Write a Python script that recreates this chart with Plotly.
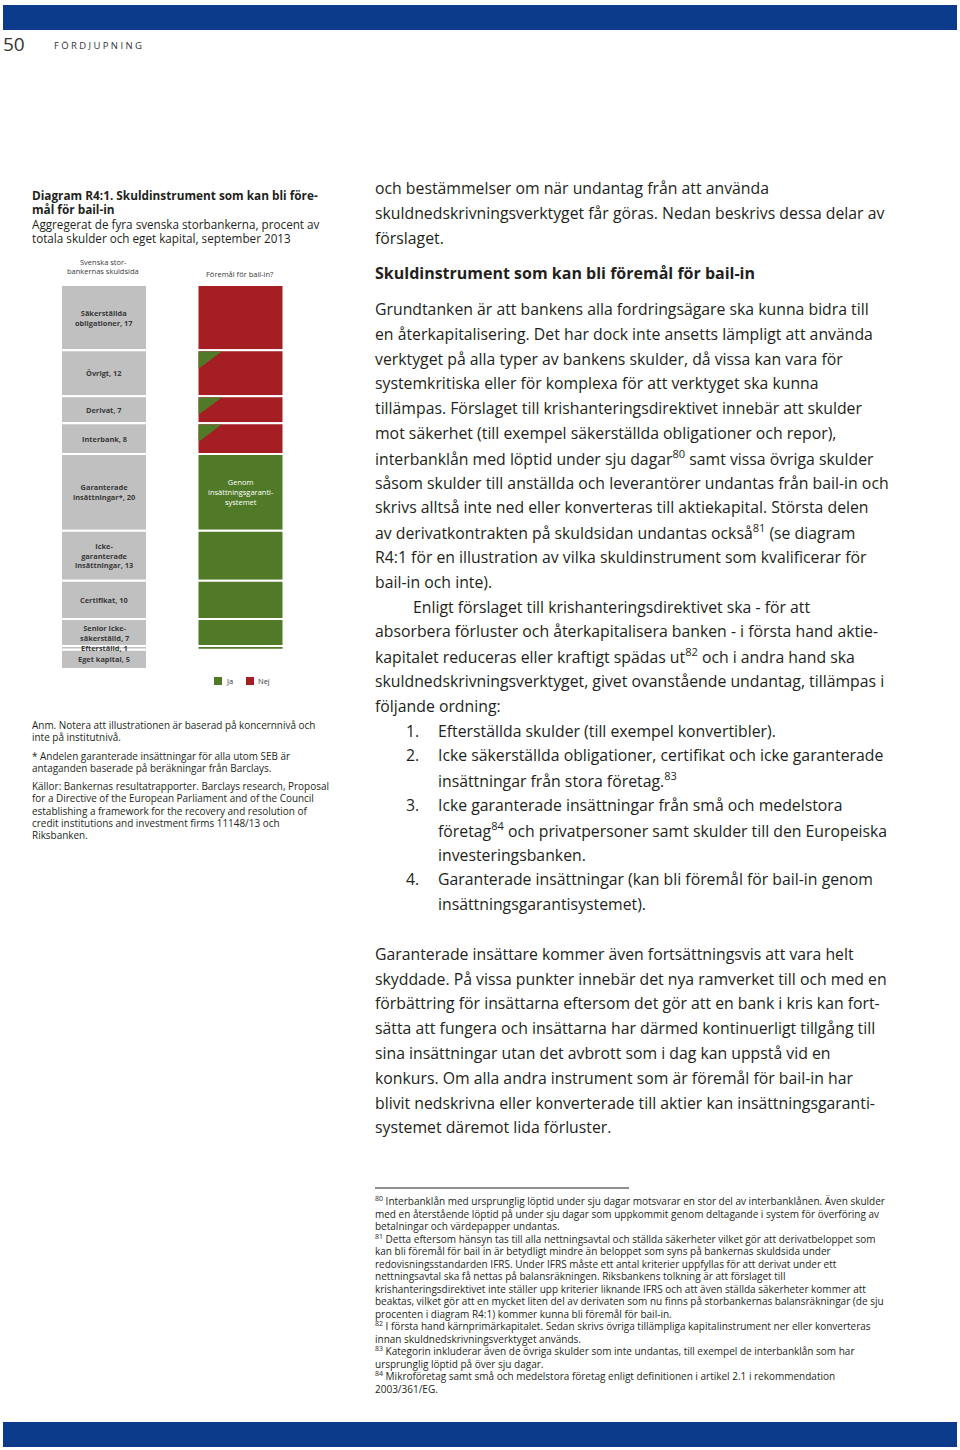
import plotly.graph_objects as go

W, H = 960, 1450
FONT = "Open Sans"
TEXT = "#231f20"
BLUE = "#0d3b8c"
GREY = "#c0c0c0"
RED = "#a51e24"
GREEN = "#507a27"

# --- chart data: Swedish big banks' liabilities, % of total (Sept 2013)
kategorier = ["Säkerställda<br>obligationer, 17", "Övrigt, 12", "Derivat, 7", "Interbank, 8",
              "Garanterade<br>insättningar*, 20", "Icke-<br>garanterade<br>insättningar, 13",
              "Certifikat, 10", "Senior icke-<br>säkerställd, 7", "Efterställd, 1", "Eget kapital, 5"]
andelar = [17, 12, 7, 8, 20, 13, 10, 7, 1, 5]
# subject to bail-in? (None = not part of the right bar)
bail_in = ["Nej", "Nej", "Nej", "Nej", "Ja", "Ja", "Ja", "Ja", "Ja", None]
# small share that can be bailed in although mostly excepted
delvis_ja = [False, True, True, True, False, False, False, False, False, False]
etikett_hoger = {4: "Genom<br>insättningsgaranti-<br>systemet"}


def fx(px):
    return px / W


def fy(py):
    return 1 - py / H


bas = []
s = 0
for v in andelar:
    bas.append(s)
    s += v

fig = go.Figure()

# left bar: the liability side
fig.add_trace(go.Bar(x=[0] * len(andelar), y=andelar, base=bas, width=0.63,
                     marker=dict(color=GREY, line=dict(color="white", width=2)),
                     showlegend=False, hoverinfo="skip"))

# right bar: subject to bail-in or not
idx = [i for i, b in enumerate(bail_in) if b is not None]
fig.add_trace(go.Bar(x=[1] * len(idx), y=[andelar[i] for i in idx], base=[bas[i] for i in idx],
                     width=0.63,
                     marker=dict(color=[GREEN if bail_in[i] == "Ja" else RED for i in idx],
                                 line=dict(color="white", width=2)),
                     showlegend=False, hoverinfo="skip"))

# green corner triangles
for i, d in enumerate(delvis_ja):
    if d:
        x0 = 1 - 0.63 / 2 + 0.008
        top = bas[i] + 0.3
        fig.add_trace(go.Scatter(x=[x0, x0 + 0.17, x0, x0], y=[top, top, top + 4.5, top],
                                 fill="toself", fillcolor=GREEN, mode="none",
                                 showlegend=False, hoverinfo="skip"))

ann = []
for i, k in enumerate(kategorier):
    ann.append(dict(x=0, y=bas[i] + andelar[i] / 2, xref="x", yref="y", text="<b>" + k + "</b>",
                    showarrow=False, font=dict(family=FONT, size=7.4, color="#3a3a3a"),
                    xanchor="center", yanchor="middle"))
for i, t in etikett_hoger.items():
    ann.append(dict(x=1, y=bas[i] + andelar[i] / 2, xref="x", yref="y", text=t,
                    showarrow=False, font=dict(family=FONT, size=7.5, color="white"),
                    xanchor="center", yanchor="middle"))


def txt(x, y, t, size, color=TEXT, anchor="left", bold=False, family=FONT):
    if bold:
        t = "<b>" + t + "</b>"
    if anchor == "left":
        x -= 2  # annotation padding
    ann.append(dict(x=fx(x), y=fy(y), xref="paper", yref="paper", text=t, showarrow=False,
                    font=dict(family=family, size=size, color=color),
                    xanchor=anchor, yanchor="middle"))


# header / footer
shapes = [
    dict(type="rect", xref="paper", yref="paper", x0=fx(3), x1=fx(957), y0=fy(30), y1=fy(5),
         fillcolor=BLUE, line=dict(width=0)),
    dict(type="rect", xref="paper", yref="paper", x0=fx(3), x1=fx(957), y0=fy(1447), y1=fy(1422),
         fillcolor=BLUE, line=dict(width=0)),
    dict(type="line", xref="paper", yref="paper", x0=fx(375), x1=fx(629), y0=fy(1188), y1=fy(1188),
         line=dict(color=TEXT, width=1)),
    dict(type="rect", xref="paper", yref="paper", x0=fx(214), x1=fx(222), y0=fy(685), y1=fy(677),
         fillcolor=GREEN, line=dict(width=0)),
    dict(type="rect", xref="paper", yref="paper", x0=fx(246), x1=fx(254), y0=fy(685), y1=fy(677),
         fillcolor=RED, line=dict(width=0)),
]
txt(3, 44, "50", 19, "#333333")
txt(54, 46, "\u2005".join("FÖRDJUPNING"), 9.5, "#333333")

# left column
txt(32, 195, "Diagram R4:1. Skuldinstrument som kan bli före-", 11.8, bold=True)
txt(32, 209, "mål för bail-in", 11.8, bold=True)
txt(32, 224, "Aggregerat de fyra svenska storbankerna, procent av", 11.7)
txt(32, 238, "totala skulder och eget kapital, september 2013", 11.7)
txt(103, 262, "Svenska stor-", 7.5, "#3a3a3a", "center")
txt(103, 271, "bankernas skuldsida", 7.5, "#3a3a3a", "center")
txt(240, 274, "Föremål för bail-in?", 7.5, "#3a3a3a", "center")
txt(226, 681, "Ja", 7.5, "#3a3a3a")
txt(258, 681, "Nej", 7.5, "#3a3a3a")

noter = [
    (725, "Anm. Notera att illustrationen är baserad på koncernnivå och"),
    (737, "inte på institutnivå."),
    (756, "* Andelen garanterade insättningar för alla utom SEB är"),
    (768, "antaganden baserade på beräkningar från Barclays."),
    (786, "Källor: Bankernas resultatrapporter. Barclays research, Proposal"),
    (798, "for a Directive of the European Parliament and of the Council"),
    (811, "establishing a framework for the recovery and resolution of"),
    (823, "credit institutions and investment firms 11148/13 och"),
    (835, "Riksbanken."),
]
for y, t in noter:
    txt(32, y, t, 9.95)

# right column body
BODY = 15.8
topp = ["och bestämmelser om när undantag från att använda",
        "skuldnedskrivningsverktyget får göras. Nedan beskrivs dessa delar av",
        "förslaget."]
for i, t in enumerate(topp):
    txt(375, 188.3 + 24.8 * i, t, BODY)
txt(375, 273, "Skuldinstrument som kan bli föremål för bail-in", 16, bold=True)

brodtext = [
    (375, "Grundtanken är att bankens alla fordringsägare ska kunna bidra till"),
    (375, "en återkapitalisering. Det har dock inte ansetts lämpligt att använda"),
    (375, "verktyget på alla typer av bankens skulder, då vissa kan vara för"),
    (375, "systemkritiska eller för komplexa för att verktyget ska kunna"),
    (375, "tillämpas. Förslaget till krishanteringsdirektivet innebär att skulder"),
    (375, "mot säkerhet (till exempel säkerställda obligationer och repor),"),
    (375, "interbanklån med löptid under sju dagar<sup>80</sup> samt vissa övriga skulder"),
    (375, "såsom skulder till anställda och leverantörer undantas från bail-in och"),
    (375, "skrivs alltså inte ned eller konverteras till aktiekapital. Största delen"),
    (375, "av derivatkontrakten på skuldsidan undantas också<sup>81</sup> (se diagram"),
    (375, "R4:1 för en illustration av vilka skuldinstrument som kvalificerar för"),
    (375, "bail-in och inte)."),
    (413, "Enligt förslaget till krishanteringsdirektivet ska - för att"),
    (375, "absorbera förluster och återkapitalisera banken - i första hand aktie-"),
    (375, "kapitalet reduceras eller kraftigt spädas ut<sup>82</sup> och i andra hand ska"),
    (375, "skuldnedskrivningsverktyget, givet ovanstående undantag, tillämpas i"),
    (375, "följande ordning:"),
    (438, "Efterställda skulder (till exempel konvertibler)."),
    (438, "Icke säkerställda obligationer, certifikat och icke garanterade"),
    (438, "insättningar från stora företag.<sup>83</sup>"),
    (438, "Icke garanterade insättningar från små och medelstora"),
    (438, "företag<sup>84</sup> och privatpersoner samt skulder till den Europeiska"),
    (438, "investeringsbanken."),
    (438, "Garanterade insättningar (kan bli föremål för bail-in genom"),
    (438, "insättningsgarantisystemet)."),
    (375, ""),
    (375, "Garanterade insättare kommer även fortsättningsvis att vara helt"),
    (375, "skyddade. På vissa punkter innebär det nya ramverket till och med en"),
    (375, "förbättring för insättarna eftersom det gör att en bank i kris kan fort-"),
    (375, "sätta att fungera och insättarna har därmed kontinuerligt tillgång till"),
    (375, "sina insättningar utan det avbrott som i dag kan uppstå vid en"),
    (375, "konkurs. Om alla andra instrument som är föremål för bail-in har"),
    (375, "blivit nedskrivna eller konverterade till aktier kan insättningsgaranti-"),
    (375, "systemet däremot lida förluster."),
]
numrering = {17: "1.", 18: "2.", 20: "3.", 23: "4."}
for i, (x, t) in enumerate(brodtext):
    y = 309 + 24.8 * i
    if t:
        txt(x, y, t, BODY)
    if i in numrering:
        txt(406, y, numrering[i], BODY)

fotnoter = [
    "<sup>80</sup> Interbanklån med ursprunglig löptid under sju dagar motsvarar en stor del av interbanklånen. Även skulder",
    "med en återstående löptid på under sju dagar som uppkommit genom deltagande i system för överföring av",
    "betalningar och värdepapper undantas.",
    "<sup>81</sup> Detta eftersom hänsyn tas till alla nettningsavtal och ställda säkerheter vilket gör att derivatbeloppet som",
    "kan bli föremål för bail in är betydligt mindre än beloppet som syns på bankernas skuldsida under",
    "redovisningsstandarden IFRS. Under IFRS måste ett antal kriterier uppfyllas för att derivat under ett",
    "nettningsavtal ska få nettas på balansräkningen. Riksbankens tolkning är att förslaget till",
    "krishanteringsdirektivet inte ställer upp kriterier liknande IFRS och att även ställda säkerheter kommer att",
    "beaktas, vilket gör att en mycket liten del av derivaten som nu finns på storbankernas balansräkningar (de sju",
    "procenten i diagram R4:1) kommer kunna bli föremål för bail-in.",
    "<sup>82</sup> I första hand kärnprimärkapitalet. Sedan skrivs övriga tillämpliga kapitalinstrument ner eller konverteras",
    "innan skuldnedskrivningsverktyget används.",
    "<sup>83</sup> Kategorin inkluderar även de övriga skulder som inte undantas, till exempel de interbanklån som har",
    "ursprunglig löptid på över sju dagar.",
    "<sup>84</sup> Mikroföretag samt små och medelstora företag enligt definitionen i artikel 2.1 i rekommendation",
    "2003/361/EG.",
]
for i, t in enumerate(fotnoter):
    txt(375, 1201 + 12.53 * i, t, 10)

fig.update_layout(
    width=W, height=H, margin=dict(l=0, r=0, t=0, b=0),
    paper_bgcolor="white", plot_bgcolor="rgba(0,0,0,0)",
    barmode="overlay", showlegend=False,
    xaxis=dict(domain=[fx(35.75), fx(308.75)], range=[-0.5, 1.5], visible=False, fixedrange=True),
    yaxis=dict(domain=[fy(669), fy(285)], range=[100, 0], visible=False, fixedrange=True),
    annotations=ann, shapes=shapes,
)

# page has no body margin in the reference
fig.write_html("out.html", config={"displayModeBar": False},
               post_script="document.body.style.margin='0';")
